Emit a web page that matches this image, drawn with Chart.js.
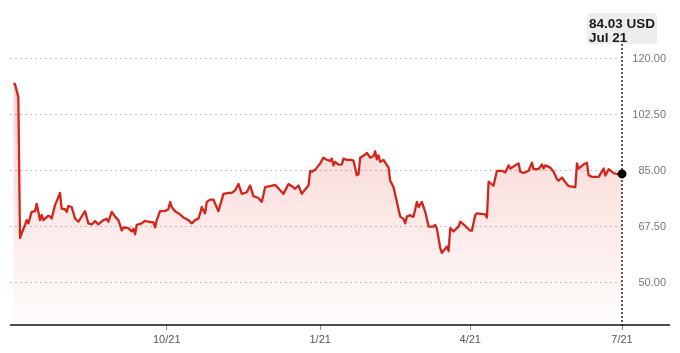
<!DOCTYPE html>
<html>
<head>
<meta charset="utf-8">
<script src="https://cdn.jsdelivr.net/npm/chart.js@4.4.1/dist/chart.umd.min.js"></script>
<style>
  html, body { margin: 0; padding: 0; background: #fff; }
  #wrap { width: 680px; height: 353px; position: relative; }
</style>
</head>
<body>
<div id="wrap"><canvas id="chart"></canvas></div>
<script>
// days since 21 Jul 2020
const days = [
  0, 1, 3, 4, 5, 7, 8, 9, 11, 13, 14, 15, 16, 17, 18, 21, 22, 23, 25, 27,
  28, 29, 31, 32, 33, 35, 37, 39, 43, 45, 47, 49, 51, 54, 56, 57, 59, 61, 63, 65,
  66, 69, 71, 72, 73, 74, 77, 79, 81, 84, 85, 86, 88, 91, 93, 94, 95, 97, 100, 102,
  105, 107, 109, 111, 112, 113, 115, 116, 118, 120, 121, 123, 126, 129, 131, 133, 135, 137, 140, 142,
  144, 147, 149, 151, 154, 157, 160, 162, 165, 167, 169, 171, 173, 175, 177, 178, 179, 181, 182, 184,
  186, 188, 190, 191, 192, 193, 195, 197, 198, 200, 203, 204, 206, 207, 208, 211, 212, 214, 216, 217,
  218, 219, 220, 222, 225, 226, 228, 230, 232, 234, 235, 236, 238, 239, 240, 242, 243, 245, 247, 249,
  252, 253, 254, 256, 257, 259, 260, 261, 262, 264, 267, 268, 270, 274, 275, 277, 278, 283, 284, 285,
  288, 290, 293, 295, 297, 298, 301, 303, 304, 306, 309, 311, 312, 315, 317, 318, 319, 322, 324, 326,
  327, 329, 331, 333, 337, 338, 339, 342, 344, 345, 347, 351, 354, 355, 357, 360, 362, 365
]
const prices = [
  112.1, 112.1, 108.0, 64.0, 65.5, 68.1, 69.6, 68.6, 72.2, 72.4, 74.7, 72.2, 69.6, 71.2, 69.6, 71.0, 70.7, 70.1, 74.3, 76.8,
  78.1, 73.2, 73.0, 72.2, 74.0, 73.7, 70.1, 69.1, 72.4, 68.6, 68.3, 69.3, 68.3, 69.6, 70.0, 69.1, 72.2, 70.7, 69.6, 66.4,
  67.3, 67.1, 66.1, 66.9, 65.2, 68.1, 68.6, 69.4, 69.1, 68.9, 67.3, 69.6, 72.4, 72.5, 73.0, 75.3, 73.7, 72.4, 71.4, 70.4,
  69.6, 68.6, 69.6, 70.1, 71.7, 73.7, 71.7, 75.3, 76.0, 76.0, 74.8, 72.4, 77.8, 78.1, 78.1, 78.9, 80.9, 77.8, 78.3, 80.4,
  77.1, 76.5, 75.3, 79.9, 80.2, 80.6, 78.9, 77.8, 80.9, 80.2, 79.4, 80.4, 77.8, 79.2, 80.4, 85.0, 84.7, 85.3, 86.0, 87.3,
  89.1, 88.4, 88.1, 88.8, 86.7, 87.8, 86.9, 87.0, 88.8, 88.4, 88.4, 88.1, 83.6, 83.9, 89.1, 90.1, 90.6, 89.1, 89.6, 91.1,
  88.6, 89.8, 87.8, 88.4, 86.0, 81.9, 79.9, 75.3, 70.7, 70.0, 68.6, 70.7, 71.2, 70.7, 70.7, 75.3, 73.7, 75.3, 72.2, 67.6,
  67.6, 68.1, 66.9, 60.9, 59.4, 60.7, 61.4, 59.9, 67.1, 66.1, 67.6, 69.1, 68.3, 66.3, 66.3, 71.2, 71.7, 71.4, 70.4, 81.6,
  80.4, 85.0, 85.0, 84.5, 86.7, 85.7, 86.7, 87.3, 84.7, 84.3, 85.0, 87.5, 85.5, 85.5, 87.0, 85.7, 86.7, 86.0, 84.7, 82.4,
  81.9, 82.9, 81.4, 80.2, 79.9, 87.3, 85.7, 87.0, 87.5, 83.6, 83.1, 83.1, 85.7, 83.5, 85.5, 84.3, 84.0, 84.03
]
const xTickDays = [92, 184, 274, 365]
const xTickLabels = ["10/21", "1/21", "4/21", "7/21"]
const yTicks = [50, 67.5, 85, 102.5, 120]
const lastPriceLabel = "84.03 USD"
const lastDateLabel = "Jul 21"

const FONT = '"Helvetica Neue", Helvetica, Arial, "Liberation Sans", sans-serif'
const red = "#d3251b"

const overlay = {
  id: "overlay",
  beforeDatasetsDraw(chart) {
    const { ctx, chartArea, scales } = chart
    const x = scales.x.getPixelForValue(days[days.length - 1])
    ctx.save()
    ctx.strokeStyle = "#222"
    ctx.lineWidth = 1.5
    ctx.setLineDash([2, 2])
    ctx.beginPath()
    ctx.moveTo(x, 44)
    ctx.lineTo(x, chartArea.bottom)
    ctx.stroke()
    ctx.restore()
  },
  afterDraw(chart) {
    const { ctx, chartArea } = chart
    ctx.save()
    // base axis line
    ctx.strokeStyle = "#111"
    ctx.lineWidth = 1.5
    ctx.beginPath()
    ctx.moveTo(chartArea.left, chartArea.bottom)
    ctx.lineTo(670, chartArea.bottom)
    ctx.stroke()

    // last value box
    const bx = 587, by = 13, bw = 70, bh = 31
    ctx.fillStyle = "#ededed"
    ctx.beginPath()
    ctx.roundRect(bx, by, bw, bh, 3)
    ctx.fill()
    ctx.fillStyle = "#1a1a1a"
    ctx.textBaseline = "alphabetic"
    ctx.textAlign = "left"
    ctx.font = "bold 13.5px " + FONT
    ctx.fillText(lastPriceLabel, bx + 2, 28)
    ctx.fillText(lastDateLabel, bx + 2, 41.5)
    ctx.restore()
  },
}

new Chart(document.getElementById("chart"), {
  type: "line",
  data: {
    datasets: [{
      data: days.map((d, i) => ({ x: d, y: prices[i] })),
      borderColor: red,
      borderWidth: 2.3,
      borderJoinStyle: "round",
      tension: 0,
      fill: "start",
      clip: 8,
      backgroundColor: (c) => {
        const area = c.chart.chartArea
        if (!area) return "rgba(225,60,50,0.15)"
        const g = c.chart.ctx.createLinearGradient(0, area.top, 0, area.bottom)
        g.addColorStop(0, "rgba(228,70,60,0.32)")
        g.addColorStop(1, "rgba(228,70,60,0.01)")
        return g
      },
      pointRadius: (c) => (c.dataIndex === days.length - 1 ? 4.5 : 0),
      pointBackgroundColor: "#000",
      pointBorderWidth: 0,
    }],
  },
  options: {
    responsive: true,
    maintainAspectRatio: false,
    animation: false,
    layout: { padding: { left: 10, top: 12, right: 14, bottom: 0 } },
    scales: {
      x: {
        type: "linear",
        min: -2,
        max: 365,
        afterBuildTicks: (s) => { s.ticks = xTickDays.map(v => ({ value: v })) },
        afterFit: (s) => { s.height = 28 },
        grid: { drawOnChartArea: false, drawTicks: true, tickLength: 5, tickColor: "#888", lineWidth: 1 },
        border: { display: false },
        ticks: {
          autoSkip: false,
          maxRotation: 0,
          padding: 3,
          color: "#555",
          font: { family: FONT, size: 11 },
          callback: (v) => xTickLabels[xTickDays.indexOf(v)],
        },
      },
      y: {
        position: "right",
        min: 36.875,
        max: 133.125,
        afterBuildTicks: (s) => { s.ticks = yTicks.map(v => ({ value: v })) },
        afterFit: (s) => { s.width = 44 },
        grid: { color: "#c4c4c4", lineWidth: 1, drawTicks: false },
        border: { display: false, dash: [2, 3] },
        ticks: {
          crossAlign: "far",
          padding: 10,
          color: "#777",
          font: { family: FONT, size: 11 },
          callback: (v) => v.toFixed(2),
        },
      },
    },
    plugins: {
      legend: { display: false },
      tooltip: { enabled: false },
    },
  },
  plugins: [overlay],
})
</script>
</body>
</html>
